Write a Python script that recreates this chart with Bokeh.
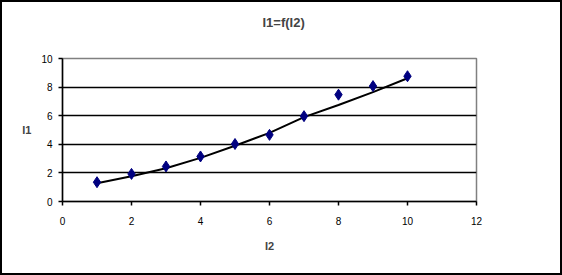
from bokeh.plotting import figure
from bokeh.models import Range1d, FixedTicker, ColumnDataSource
from bokeh.embed import file_html
from bokeh.resources import INLINE

I2 = [1, 2, 3, 4, 5, 6, 7, 8, 9, 10]
I1 = [1.35, 1.93, 2.45, 3.15, 4.02, 4.66, 5.97, 7.47, 8.07, 8.76]
I1_fit = [1.28, 1.76, 2.33, 3.05, 3.9, 4.8, 5.9, 6.75, 7.65, 8.62]
x_ticks = [0, 2, 4, 6, 8, 10, 12]
y_ticks = [0, 2, 4, 6, 8, 10]
grid_ticks = [2, 4, 6, 8]
title_text = "I1=f(I2)"
x_label = "I2"
y_label = "I1"

FONT = "Liberation Sans"

p = figure(width=562, height=275, output_backend="svg", toolbar_location=None,
           x_range=Range1d(0, 12), y_range=Range1d(0, 10),
           min_border_left=60, min_border_right=88, min_border_top=56, min_border_bottom=76)
p.styles = {"border": "2px solid black"}
p.background_fill_color = "white"
p.border_fill_color = "white"
p.outline_line_color = "#808080"
p.outline_line_width = 1.5

p.title.text = title_text + "\n\u00a0"
p.title.align = "left"
p.title.offset = 200
p.title.vertical_align = "top"
p.title.standoff = 24
p.title.text_font = FONT
p.title.text_font_style = "bold"
p.title.text_font_size = "13px"

p.xaxis.ticker = FixedTicker(ticks=x_ticks)
p.yaxis.ticker = FixedTicker(ticks=y_ticks)
p.xgrid.visible = False
p.ygrid.ticker = FixedTicker(ticks=grid_ticks)
p.ygrid.grid_line_color = "black"
p.ygrid.grid_line_width = 1.5

for ax in (p.xaxis, p.yaxis):
    ax.axis_line_color = "black"
    ax.axis_line_width = 1.5
    ax.major_tick_line_color = "black"
    ax.major_tick_line_width = 1.5
    ax.major_tick_out = 4
    ax.major_tick_in = 0
    ax.minor_tick_line_color = None
    ax.major_label_text_font = FONT
    ax.major_label_text_font_size = "10px"
    ax.major_label_text_color = "black"
    ax.axis_label_text_font = FONT
    ax.axis_label_text_font_style = "bold"
    ax.axis_label_text_font_size = "11px"

p.yaxis.major_label_standoff = 6
p.xaxis.major_label_standoff = 11
p.xaxis.axis_label = x_label
p.xaxis.axis_label_standoff = 12
p.yaxis.axis_label = y_label
p.yaxis.axis_label_orientation = "horizontal"
p.yaxis.axis_label_standoff = 7

src = ColumnDataSource(dict(x=I2, y=I1, f=I1_fit))
p.line("x", "f", source=src, line_color="black", line_width=2)
p.scatter("x", "y", source=src, marker="diamond", size=11, fill_color="#000080",
          line_color="#000080")

open("out.html", "w").write(file_html(p, INLINE))
